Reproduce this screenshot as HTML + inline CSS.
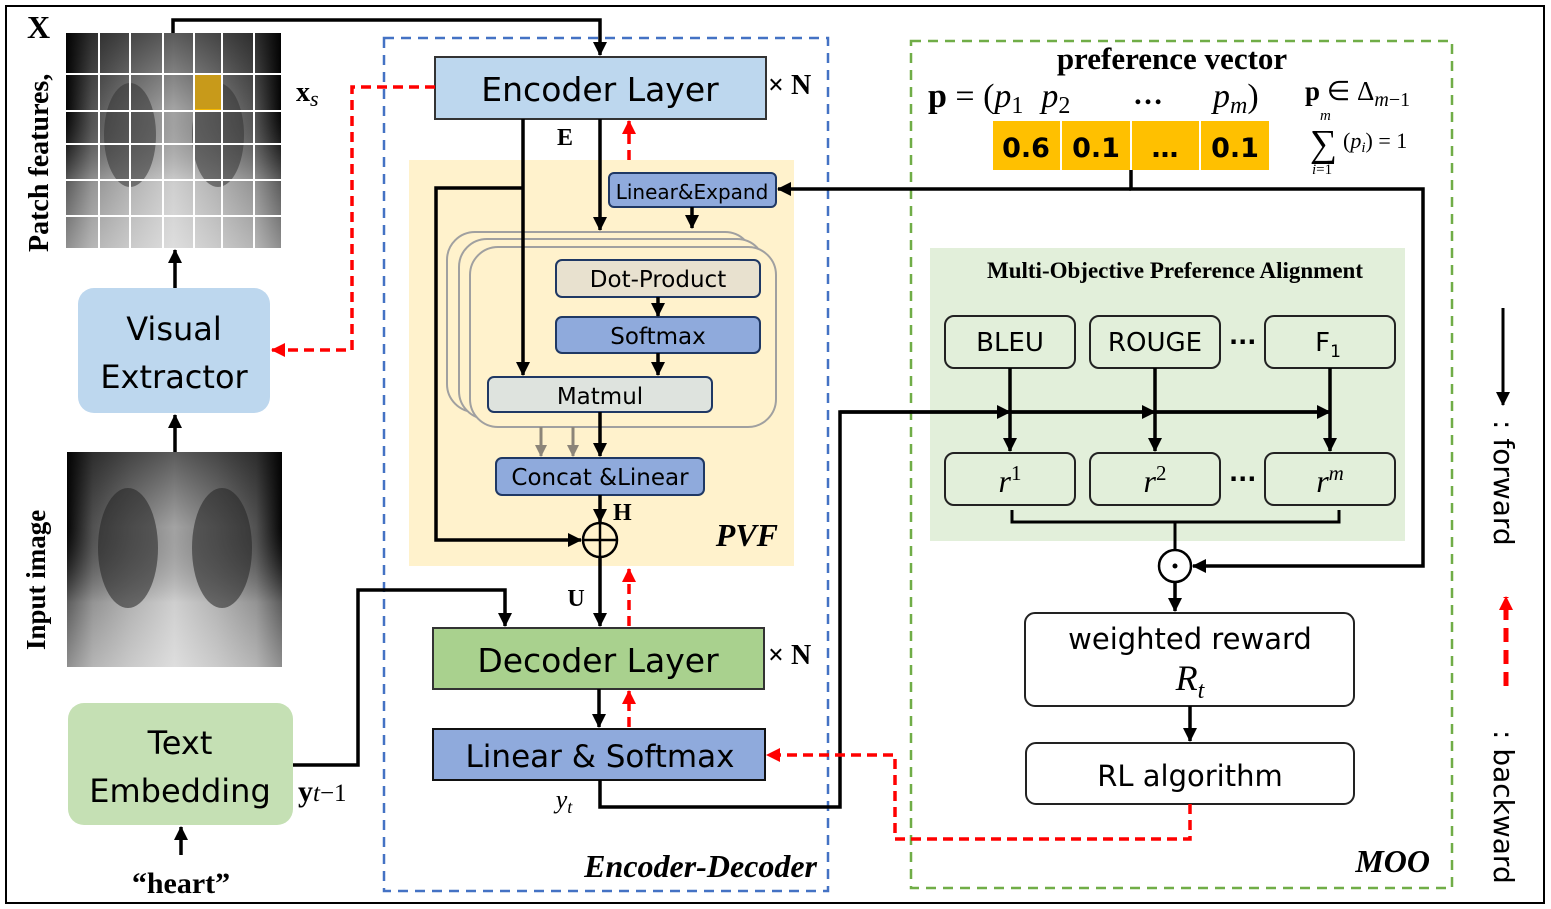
<!DOCTYPE html>
<html><head><meta charset="utf-8"><style>
html,body{margin:0;padding:0;background:#fff}
svg{display:block}
.s{font-family:"DejaVu Sans","Liberation Sans",sans-serif}
.r{font-family:"Liberation Serif",serif}
</style></head><body>
<svg width="1551" height="909" viewBox="0 0 1551 909" xmlns="http://www.w3.org/2000/svg">
<defs>
<marker id="ar" markerWidth="14" markerHeight="14" refX="13" refY="7" orient="auto" markerUnits="userSpaceOnUse"><path d="M0,0 L14,7 L0,14z" fill="#000"/></marker>
<marker id="rr" markerWidth="14" markerHeight="14" refX="13" refY="7" orient="auto" markerUnits="userSpaceOnUse"><path d="M0,0 L14,7 L0,14z" fill="#f00"/></marker>
<marker id="gr" markerWidth="12" markerHeight="12" refX="11" refY="6" orient="auto" markerUnits="userSpaceOnUse"><path d="M0,0 L12,6 L0,12z" fill="#8c8579"/></marker>
<linearGradient id="xh" x1="0" y1="0" x2="1" y2="0"><stop offset="0" stop-color="#050505"/><stop offset="0.12" stop-color="#5a5a5a"/><stop offset="0.3" stop-color="#8a8a8a"/><stop offset="0.5" stop-color="#b5b5b5"/><stop offset="0.7" stop-color="#8a8a8a"/><stop offset="0.88" stop-color="#5a5a5a"/><stop offset="1" stop-color="#050505"/></linearGradient>
<linearGradient id="xv" x1="0" y1="0" x2="0" y2="1"><stop offset="0" stop-color="#000" stop-opacity="0.5"/><stop offset="0.35" stop-color="#000" stop-opacity="0.1"/><stop offset="0.7" stop-color="#fff" stop-opacity="0.35"/><stop offset="1" stop-color="#fff" stop-opacity="0.55"/></linearGradient>
</defs>
<rect x="6" y="6" width="1538" height="897" fill="#fff" stroke="#000" stroke-width="2"/>

<!-- images -->
<rect x="66" y="33" width="215" height="215" fill="url(#xh)"/>
<rect x="66" y="33" width="215" height="215" fill="url(#xv)"/>
<ellipse cx="130" cy="135" rx="26" ry="52" fill="#333" opacity="0.55"/>
<ellipse cx="218" cy="135" rx="26" ry="52" fill="#333" opacity="0.55"/>
<rect x="194" y="74" width="28" height="36" fill="#c89a1a" stroke="#f5b800" stroke-width="2"/>
<g stroke="#fff" stroke-width="2">
<line x1="99" y1="33" x2="99" y2="248"/><line x1="130" y1="33" x2="130" y2="248"/><line x1="163" y1="33" x2="163" y2="248"/><line x1="194" y1="33" x2="194" y2="248"/><line x1="222" y1="33" x2="222" y2="248"/><line x1="254" y1="33" x2="254" y2="248"/>
<line x1="66" y1="74" x2="281" y2="74"/><line x1="66" y1="111" x2="281" y2="111"/><line x1="66" y1="144" x2="281" y2="144"/><line x1="66" y1="180" x2="281" y2="180"/><line x1="66" y1="216" x2="281" y2="216"/>
</g>
<rect x="67" y="452" width="215" height="215" fill="url(#xh)"/>
<rect x="67" y="452" width="215" height="215" fill="url(#xv)"/>
<ellipse cx="128" cy="548" rx="30" ry="60" fill="#222" opacity="0.55"/>
<ellipse cx="222" cy="548" rx="30" ry="60" fill="#222" opacity="0.55"/>

<text x="0" y="0" class="r" font-size="28" font-weight="bold" transform="translate(48,252) rotate(-90)">Patch features,</text>
<text x="27" y="38" class="r" font-size="32" font-weight="bold">X</text>
<text x="0" y="0" class="r" font-size="27" font-weight="bold" transform="translate(45,650) rotate(-90)">Input image</text>
<text x="296" y="101" class="r" font-size="28" font-weight="bold">x<tspan font-size="22" font-style="italic" font-weight="normal" dy="5">s</tspan></text>

<rect x="78" y="288" width="192" height="125" rx="16" fill="#bdd7ee"/>
<text x="174" y="340" class="s" font-size="32" text-anchor="middle">Visual</text>
<text x="174" y="388" class="s" font-size="32" text-anchor="middle">Extractor</text>
<rect x="68" y="703" width="225" height="122" rx="16" fill="#c5e0b4"/>
<text x="180" y="754" class="s" font-size="32" text-anchor="middle">Text</text>
<text x="180" y="802" class="s" font-size="32" text-anchor="middle">Embedding</text>
<text x="181" y="893" class="r" font-size="30" font-weight="bold" text-anchor="middle">“heart”</text>
<text x="298" y="801" class="r" font-size="30" font-weight="bold">y<tspan font-style="italic" font-weight="normal" font-size="25">t</tspan><tspan font-weight="normal" font-size="25">−1</tspan></text>

<!-- encoder-decoder -->
<rect x="384" y="38" width="444" height="853" fill="none" stroke="#4472c4" stroke-width="2.5" stroke-dasharray="10,7"/>
<rect x="409" y="160" width="385" height="406" fill="#fff2cc"/>
<rect x="435" y="57" width="331" height="62" fill="#bdd7ee" stroke="#333" stroke-width="2"/>
<text x="600" y="101" class="s" font-size="33" text-anchor="middle">Encoder Layer</text>
<text x="768" y="94" class="r" font-size="28" font-weight="bold">× N</text>
<text x="565" y="145" class="r" font-size="24" font-weight="bold" text-anchor="middle">E</text>

<rect x="447" y="232" width="306" height="180" rx="28" fill="#fff2cc" stroke="#a0a0a0" stroke-width="2"/>
<rect x="459" y="239" width="306" height="180" rx="28" fill="#fff2cc" stroke="#a0a0a0" stroke-width="2"/>
<rect x="470" y="247" width="306" height="180" rx="28" fill="#fff2cc" stroke="#a0a0a0" stroke-width="2"/>
<rect x="609" y="173" width="167" height="34" rx="5" fill="#8faadc" stroke="#1f3864" stroke-width="2"/>
<text x="692" y="199" class="s" font-size="20" text-anchor="middle">Linear&amp;Expand</text>
<rect x="556" y="260" width="204" height="37" rx="6" fill="#e8e1cf" stroke="#1f3864" stroke-width="2"/>
<text x="658" y="287" class="s" font-size="23" text-anchor="middle">Dot-Product</text>
<rect x="556" y="317" width="204" height="36" rx="6" fill="#8faadc" stroke="#1f3864" stroke-width="2"/>
<text x="658" y="344" class="s" font-size="23" text-anchor="middle">Softmax</text>
<rect x="488" y="377" width="224" height="35" rx="6" fill="#dee3de" stroke="#1f3864" stroke-width="2"/>
<text x="600" y="404" class="s" font-size="23" text-anchor="middle">Matmul</text>
<rect x="496" y="458" width="208" height="37" rx="6" fill="#8faadc" stroke="#1f3864" stroke-width="2"/>
<text x="600" y="485" class="s" font-size="23" text-anchor="middle">Concat &amp;Linear</text>
<circle cx="600" cy="540" r="17" fill="none" stroke="#000" stroke-width="2.5"/>
<line x1="583" y1="540" x2="617" y2="540" stroke="#000" stroke-width="2.5"/><line x1="600" y1="523" x2="600" y2="557" stroke="#000" stroke-width="2.5"/>
<text x="613" y="520" class="r" font-size="24" font-weight="bold">H</text>
<text x="778" y="546" class="r" font-size="32" font-weight="bold" font-style="italic" text-anchor="end">PVF</text>
<text x="576" y="606" class="r" font-size="24" font-weight="bold" text-anchor="middle">U</text>

<rect x="433" y="628" width="331" height="61" fill="#a9d18e" stroke="#333" stroke-width="2"/>
<text x="598" y="672" class="s" font-size="33" text-anchor="middle">Decoder Layer</text>
<text x="768" y="664" class="r" font-size="28" font-weight="bold">× N</text>
<rect x="433" y="729" width="332" height="51" fill="#8faadc" stroke="#111" stroke-width="2"/>
<text x="600" y="767" class="s" font-size="31" text-anchor="middle">Linear &amp; Softmax</text>
<text x="564" y="808" class="r" font-size="26" font-style="italic" text-anchor="middle">y<tspan font-size="18" dy="5">t</tspan></text>
<text x="817" y="877" class="r" font-size="32" font-weight="bold" font-style="italic" text-anchor="end">Encoder-Decoder</text>

<!-- MOO -->
<rect x="911" y="41" width="541" height="847" fill="none" stroke="#70ad47" stroke-width="2.5" stroke-dasharray="10,7"/>
<text x="1172" y="69" class="r" font-size="31" font-weight="bold" text-anchor="middle">preference vector</text>
<text x="928" y="107" class="r" font-size="34"><tspan font-weight="bold">p</tspan> = (<tspan font-style="italic">p</tspan><tspan font-size="24" dy="6">1</tspan><tspan dy="-6" dx="18" font-style="italic">p</tspan><tspan font-size="24" dy="6">2</tspan></text>
<text x="1148" y="104" class="r" font-size="30" font-weight="bold" text-anchor="middle">…</text>
<text x="1213" y="107" class="r" font-size="34"><tspan font-style="italic">p</tspan><tspan font-size="24" font-style="italic" dy="6">m</tspan><tspan dy="-6">)</tspan></text>
<g fill="#ffc000"><rect x="993" y="121" width="67" height="49"/><rect x="1062" y="121" width="68" height="49"/><rect x="1132" y="121" width="67" height="49"/><rect x="1201" y="121" width="68" height="49"/></g>
<g class="s" font-size="27" font-weight="bold" text-anchor="middle"><text x="1026" y="157">0.6</text><text x="1096" y="157">0.1</text><text x="1165" y="157">…</text><text x="1235" y="157">0.1</text></g>
<text x="1305" y="100" class="r" font-size="27"><tspan font-weight="bold">p</tspan> ∈ Δ<tspan font-size="20" font-style="italic" dy="6">m</tspan><tspan font-size="20">−1</tspan></text>
<text x="1320" y="120" class="r" font-size="15" font-style="italic">m</text>
<text x="1310" y="156" class="r" font-size="38">∑</text>
<text x="1343" y="148" class="r" font-size="22">(<tspan font-style="italic">p<tspan font-size="15" dy="4">i</tspan></tspan><tspan dy="-4">) = 1</tspan></text>
<text x="1312" y="174" class="r" font-size="15"><tspan font-style="italic">i</tspan>=1</text>

<rect x="930" y="248" width="475" height="293" fill="#e2efda"/>
<text x="1175" y="278" class="r" font-size="23" font-weight="bold" text-anchor="middle">Multi-Objective Preference Alignment</text>
<g fill="#e2efda" stroke="#222" stroke-width="2">
<rect x="945" y="316" width="130" height="52" rx="9"/><rect x="1090" y="316" width="130" height="52" rx="9"/><rect x="1265" y="316" width="130" height="52" rx="9"/>
<rect x="945" y="453" width="130" height="52" rx="9"/><rect x="1090" y="453" width="130" height="52" rx="9"/><rect x="1265" y="453" width="130" height="52" rx="9"/>
</g>
<g class="s" font-size="26" text-anchor="middle"><text x="1010" y="351">BLEU</text><text x="1155" y="351">ROUGE</text><text x="1328" y="351">F<tspan font-size="17" dy="6">1</tspan></text></g>
<g class="r" font-size="32" font-style="italic" text-anchor="middle"><text x="1010" y="492">r<tspan font-size="21" font-style="normal" dy="-12">1</tspan></text><text x="1155" y="492">r<tspan font-size="21" font-style="normal" dy="-12">2</tspan></text><text x="1330" y="492">r<tspan font-size="21" dy="-12">m</tspan></text></g>
<g class="s" font-size="24" font-weight="bold"><text x="1229" y="350">···</text><text x="1229" y="487">···</text></g>
<path d="M1012,510 V522 H1339 V510 M1175,522 V550" fill="none" stroke="#000" stroke-width="3"/>
<circle cx="1175" cy="566" r="16" fill="#fff" stroke="#000" stroke-width="2.5"/><circle cx="1175" cy="566" r="2.5" fill="#000"/>
<rect x="1025" y="613" width="329" height="93" rx="10" fill="#fff" stroke="#222" stroke-width="2"/>
<text x="1190" y="649" class="s" font-size="29" text-anchor="middle">weighted reward</text>
<text x="1190" y="690" class="r" font-size="36" font-style="italic" text-anchor="middle">R<tspan font-size="24" dy="8">t</tspan></text>
<rect x="1026" y="743" width="328" height="61" rx="10" fill="#fff" stroke="#222" stroke-width="2"/>
<text x="1190" y="786" class="s" font-size="29" text-anchor="middle">RL algorithm</text>
<text x="1430" y="872" class="r" font-size="32" font-weight="bold" font-style="italic" text-anchor="end">MOO</text>

<!-- legend -->
<line x1="1503" y1="308" x2="1503" y2="405" stroke="#000" stroke-width="3" marker-end="url(#ar)"/>
<text x="0" y="0" class="s" font-size="28" transform="translate(1494,420) rotate(90)">: forward</text>
<line x1="1506" y1="686" x2="1506" y2="597" stroke="#f00" stroke-width="5" stroke-dasharray="14,8" marker-end="url(#rr)"/>
<text x="0" y="0" class="s" font-size="28" transform="translate(1494,730) rotate(90)">: backward</text>

<!-- black connectors -->
<g fill="none" stroke="#000" stroke-width="3.5">
<path d="M173,33 V20 H600 V55" marker-end="url(#ar)"/>
<path d="M175,288 V250" marker-end="url(#ar)"/>
<path d="M175,452 V415" marker-end="url(#ar)"/>
<path d="M181,855 V827" marker-end="url(#ar)"/>
<path d="M523,119 V375" marker-end="url(#ar)"/>
<path d="M523,188 H436 V540 H581" marker-end="url(#ar)"/>
<path d="M600,119 V230" marker-end="url(#ar)"/>
<path d="M692,207 V228" marker-end="url(#ar)"/>
<path d="M658,297 V316" marker-end="url(#ar)"/>
<path d="M658,353 V375" marker-end="url(#ar)"/>
<path d="M600,412 V456" marker-end="url(#ar)"/>
<path d="M600,495 V522" marker-end="url(#ar)"/>
<path d="M600,557 V626" marker-end="url(#ar)"/>
<path d="M599,689 V727" marker-end="url(#ar)"/>
<path d="M293,765 H358 V590 H505 V626" marker-end="url(#ar)"/>
<path d="M600,780 V807 H840 V412 H1330" />
<path d="M840,412 H1010" marker-end="url(#ar)"/>
<path d="M1010,412 H1155" marker-end="url(#ar)"/>
<path d="M1155,412 H1330" marker-end="url(#ar)"/>
<path d="M1010,368 V451" marker-end="url(#ar)"/>
<path d="M1155,368 V451" marker-end="url(#ar)"/>
<path d="M1330,368 V451" marker-end="url(#ar)"/>
<path d="M1131,170 V189 H1423 V566 H1193" marker-end="url(#ar)"/>
<path d="M1131,189 H778" marker-end="url(#ar)"/>
<path d="M1175,582 V611" marker-end="url(#ar)"/>
<path d="M1190,706 V741" marker-end="url(#ar)"/>
</g>
<g fill="none" stroke="#8c8579" stroke-width="3">
<path d="M541,427 V456" marker-end="url(#gr)"/><path d="M573,427 V456" marker-end="url(#gr)"/>
</g>
<!-- red dashed -->
<g fill="none" stroke="#f00" stroke-width="3.5" stroke-dasharray="10,6">
<path d="M435,87 H352 V350 H272" marker-end="url(#rr)"/>
<path d="M629,160 V121" marker-end="url(#rr)"/>
<path d="M629,626 V569" marker-end="url(#rr)"/>
<path d="M629,727 V691" marker-end="url(#rr)"/>
<path d="M1190,804 V839 H895 V755 H767" marker-end="url(#rr)"/>
</g>
</svg>
</body></html>
